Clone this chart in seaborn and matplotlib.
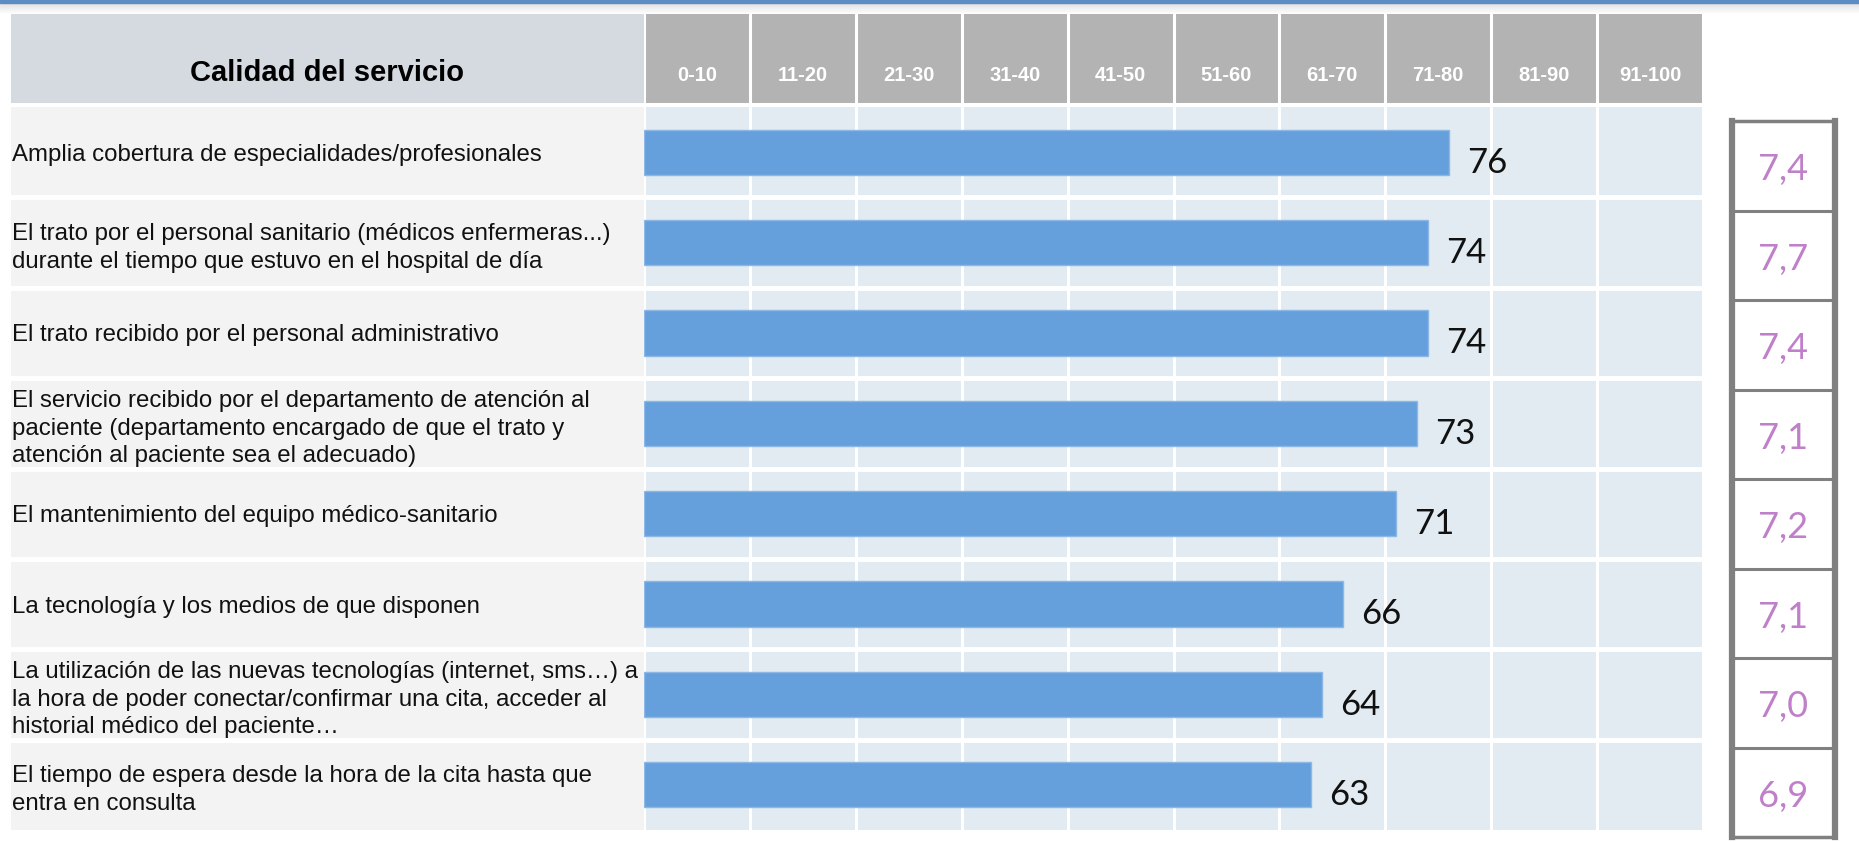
import numpy as np
import pandas as pd
import matplotlib
matplotlib.use("Agg")
import matplotlib.pyplot as plt
import seaborn as sns

# ---------------- data ----------------
items = [
    "Amplia cobertura de especialidades/profesionales",
    "El trato por el personal sanitario (médicos enfermeras...)\ndurante el tiempo que estuvo en el hospital de día",
    "El trato recibido por el personal administrativo",
    "El servicio recibido por el departamento de atención al\npaciente (departamento encargado de que el trato y\natención al paciente sea el adecuado)",
    "El mantenimiento del equipo médico-sanitario",
    "La tecnología y los medios de que disponen",
    "La utilización de las nuevas tecnologías (internet, sms…) a\nla hora de poder conectar/confirmar una cita, acceder al\nhistorial médico del paciente…",
    "El tiempo de espera desde la hora de la cita hasta que\nentra en consulta",
]
pct_values = [76, 74, 74, 73, 71, 66, 64, 63]
scores = ["7,4", "7,7", "7,4", "7,1", "7,2", "7,1", "7,0", "6,9"]
range_labels = ["0-10", "11-20", "21-30", "31-40", "41-50",
                "51-60", "61-70", "71-80", "81-90", "91-100"]
header_title = "Calidad del servicio"

# ---------------- styling ----------------
sns.set_theme(style="white")
plt.rcParams["font.family"] = ["Liberation Sans", "DejaVu Sans"]

W, H = 1859, 842
fig = plt.figure(figsize=(W / 100, H / 100), dpi=100)
fig.patch.set_facecolor("white")


def px_axes(x0, y0, x1, y1):
    """axes from pixel box (top-left origin)."""
    return fig.add_axes([x0 / W, 1 - y1 / H, (x1 - x0) / W, (y1 - y0) / H])


BAR_COLOR = "#66A0DC"
AREA_BG = "#E1EBF1"
LABEL_BG = "#F3F3F3"
HEAD_LABEL_BG = "#D4DAE0"
HEAD_RANGE_BG = "#B3B3B3"
PURPLE = "#BF80C9"
BOX_GRAY = "#808080"

n = len(items)
ROW_TOP, ROW_BOT = 107, 830
AX_L, AX_R = 644, 1703

# top decoration: blue rule + soft shadow
ax_top = px_axes(0, 0, W, 14)
grad = np.linspace(0.0, 1.0, 50)[:, None]
shade = 0.84 + 0.16 * grad
img = np.dstack([shade, shade, shade]) * np.ones((1, 10, 1))
ax_top.imshow(img, aspect="auto", extent=[0, 1, 0, 1])
ax_top.axhspan(0.78, 1.0, color="#5B8CC3")
ax_top.set_xlim(0, 1)
ax_top.set_ylim(0, 1)
ax_top.axis("off")

# header: label panel
ax_hl = px_axes(11, 14, 644, 103)
ax_hl.set_facecolor(HEAD_LABEL_BG)
ax_hl.set_xticks([])
ax_hl.set_yticks([])
for s in ax_hl.spines.values():
    s.set_visible(False)
ax_hl.text(0.5, 0.34, header_title, transform=ax_hl.transAxes, ha="center",
           va="center", fontsize=21, fontweight="bold", color="black")

# header: range columns
ax_hr = px_axes(AX_L, 14, AX_R, 103)
ax_hr.set_facecolor(HEAD_RANGE_BG)
ax_hr.set_xlim(0, 100)
ax_hr.set_ylim(0, 1)
for s in ax_hr.spines.values():
    s.set_visible(False)
centers = np.arange(5, 100, 10)
ax_hr.set_xticks([])
ax_hr.set_yticks([])
for c, lab in zip(centers, range_labels):
    ax_hr.text(c, 0.31, lab, ha="center", va="center", fontsize=14.5,
               fontweight="bold", color="white")
for xv in range(0, 101, 10):
    ax_hr.axvline(xv, color="white", lw=2.2)

# label column
ax_lab = px_axes(11, ROW_TOP, AX_L, ROW_BOT)
ax_lab.set_facecolor(LABEL_BG)
ax_lab.set_xlim(0, 1)
ax_lab.set_ylim(n - 0.5, -0.5)
ax_lab.set_xticks([])
ax_lab.set_yticks(range(n))
ax_lab.set_yticklabels(items, ha="left", fontsize=17.3, linespacing=1.32,
                       color="#111111")
ax_lab.tick_params(axis="y", length=0, pad=-1)
for s in ax_lab.spines.values():
    s.set_visible(False)
for b in np.arange(0.5, n - 0.5, 1):
    ax_lab.axhline(b, color="white", lw=3.5)

# main bar area
ax = px_axes(AX_L, ROW_TOP, AX_R, ROW_BOT)
ax.set_facecolor(AREA_BG)
df = pd.DataFrame({"item": items, "pct": pct_values})
sns.barplot(data=df, x="pct", y="item", orient="h", color=BAR_COLOR,
            width=0.5, saturation=1, edgecolor="#8DB8E6", linewidth=1.0,
            ax=ax, zorder=3)
ax.set_xlim(0, 100)
ax.set_ylim(n - 0.5, -0.5)
ax.set_xlabel("")
ax.set_ylabel("")
ax.set_xticks([])
ax.set_yticks([])
for s in ax.spines.values():
    s.set_visible(False)
for xv in range(0, 101, 10):
    ax.axvline(xv, color="white", lw=2.2, zorder=1)
for b in np.arange(0.5, n - 0.5, 1):
    ax.axhline(b, color="white", lw=3.5, zorder=2)
for patch, v in zip(ax.patches, pct_values):
    ax.annotate(str(v), xy=(patch.get_width(), patch.get_y() + patch.get_height() / 2),
                xytext=(13, -7.5), textcoords="offset points", ha="left",
                va="center", fontsize=25, family=["Lato", "DejaVu Sans"],
                color="#111111", zorder=4)

# score boxes
ax_box = px_axes(1732, 121, 1835, 837)
ax_box.set_facecolor("white")
ax_box.set_xlim(0, 1)
ax_box.set_ylim(n - 0.5, -0.5)
ax_box.set_xticks([])
ax_box.set_yticks([])
for side, s in ax_box.spines.items():
    s.set_visible(True)
    s.set_color(BOX_GRAY)
    s.set_linewidth(4.5 if side in ("left", "right") else 2.5)
for b in np.arange(0.5, n - 0.5, 1):
    ax_box.axhline(b, color=BOX_GRAY, lw=2.2)
for i, sc in enumerate(scores):
    ax_box.annotate(sc, xy=(0.5, i), xytext=(0, -3), textcoords="offset points",
                    ha="center", va="center", fontsize=26,
                    family=["Lato", "DejaVu Sans"], color=PURPLE)

fig.savefig("out.png", dpi=100, facecolor="white")
